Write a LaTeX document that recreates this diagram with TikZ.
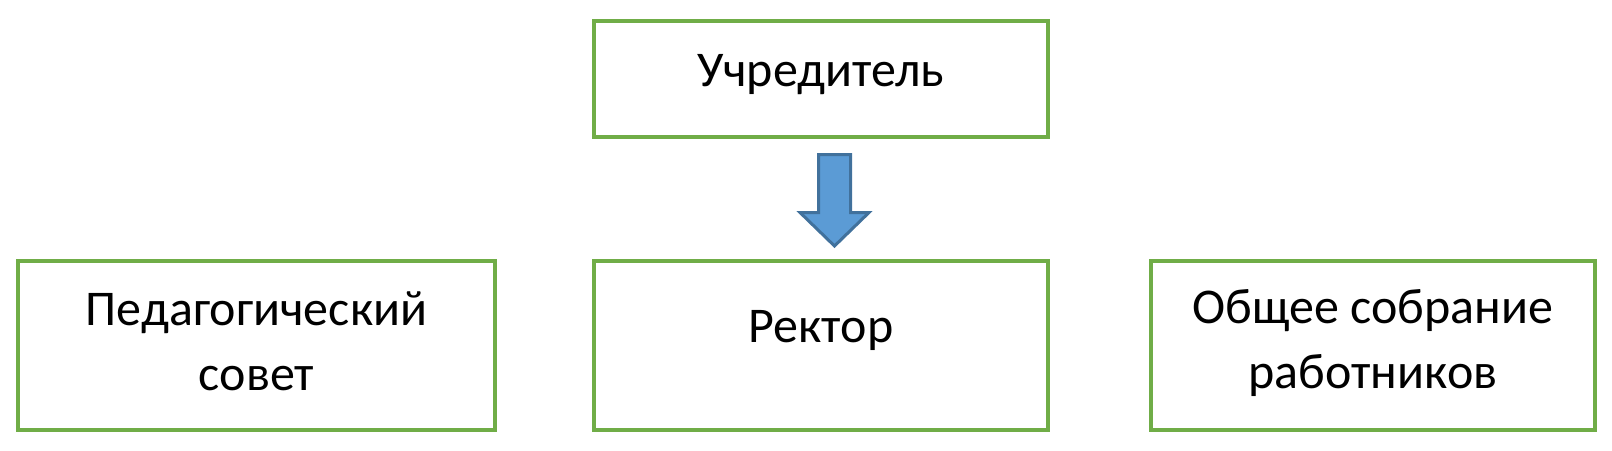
\documentclass[tikz,border=0pt]{standalone}
\usepackage{fontspec}
\setmainfont{Carlito}
\begin{document}
\begin{tikzpicture}[x=1pt,y=-1pt,
  orgbox/.style={draw=boxgreen,line width=4pt,fill=white,inner sep=0pt,align=center,
    font=\fontsize{50}{65}\selectfont},
  blockarrow/.style={draw=arrowedge,fill=arrowfill,line width=3pt,line join=miter}]
\definecolor{boxgreen}{HTML}{70AD47}
\definecolor{arrowedge}{HTML}{41719C}
\definecolor{arrowfill}{HTML}{5B9BD5}
\useasboundingbox (0,0) rectangle (1612,450);
\node[orgbox,minimum width=454pt,minimum height=116pt,text height=14pt,text depth=0pt] (founder) at (821,79) {Учредитель};
\node[orgbox,minimum width=477pt,minimum height=169pt,text height=89pt,text depth=0pt] (council) at (256.5,345.5) {Педагогический\\совет};
\node[orgbox,minimum width=454pt,minimum height=169pt,text height=0pt,text depth=7pt] (rector) at (821,345.5) {Ректор};
\node[orgbox,minimum width=444pt,minimum height=169pt,text height=85pt,text depth=0pt] (assembly) at (1373,345.5) {Общее собрание\\работников};
\draw[blockarrow] (818.5,154.5) -- (850.5,154.5) -- (850.5,212.5) -- (869,212.5)
  -- (834.5,246) -- (800,212.5) -- (818.5,212.5) -- cycle;
\end{tikzpicture}
\end{document}
